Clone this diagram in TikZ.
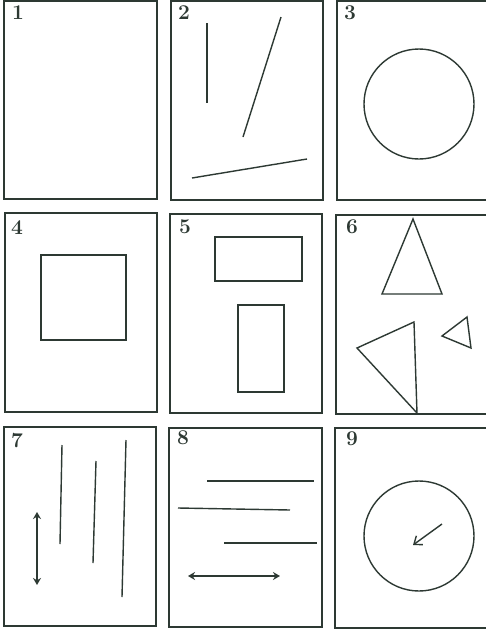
\documentclass[tikz,border=0pt]{standalone}
\usetikzlibrary{arrows.meta}
\definecolor{ink}{RGB}{45,57,51}
\begin{document}
\begin{tikzpicture}[x=1pt,y=-1pt,
  panel/.style={draw=ink,line width=1.9pt},
  figline/.style={draw=ink,line width=1.4pt},
  num/.style={anchor=north west,inner sep=0pt,text=ink,font=\fontsize{21}{21}\selectfont\bfseries},
  dbl/.style={draw=ink,line width=1.6pt,{Stealth[length=7pt,width=8pt]}-{Stealth[length=7pt,width=8pt]}},
  openarr/.style={draw=ink,line width=1.4pt,-{Straight Barb[length=7pt,width=11pt]}}]
\useasboundingbox (0,0) rectangle (486,630);
\fill[white] (0,0) rectangle (486,630);
% row 1
\draw[panel] (4,1) rectangle (157,199);
\draw[panel] (171,1) rectangle (323,200);
\draw[panel] (337,1) rectangle (490,200);
\node[num] (n1) at (12,6) {1};
\node[num] (n2) at (178,6) {2};
\node[num] (n3) at (344,6) {3};
\draw[figline] (207,23) -- (207,103);
\draw[figline] (281,17) -- (243,137);
\draw[figline] (192,178) -- (307,159);
\draw[figline] (419,104) circle (55);
% row 2
\draw[panel] (5,213) rectangle (157,412);
\draw[panel] (170,214) rectangle (322,413);
\draw[panel] (336,215) rectangle (490,414);
\node[num] (n4) at (11,220) {4};
\node[num] (n5) at (179,220) {5};
\node[num] (n6) at (346,220) {6};
\draw[figline] (41,255) rectangle (126,340);
\draw[figline] (215,237) rectangle (302,281);
\draw[figline] (238,305) rectangle (284,392);
\draw[figline,line join=miter] (413,219) -- (382,294) -- (442,294) -- cycle;
\draw[figline,line join=miter] (357,348) -- (414,322) -- (417,413) -- cycle;
\draw[figline,line join=miter] (442,336) -- (467,317) -- (471,348) -- cycle;
% row 3
\draw[panel] (4,427) rectangle (156,626);
\draw[panel] (169,428) rectangle (322,627);
\draw[panel] (335,428) rectangle (490,628);
\node[num] (n7) at (11,433) {7};
\node[num] (n8) at (177,431) {8};
\node[num] (n9) at (346,432) {9};
\draw[figline] (62,445) -- (60,544);
\draw[figline] (96,461) -- (93,563);
\draw[figline] (126,440) -- (122,597);
\coordinate (a7t) at (37,512);
\coordinate (a7b) at (37,585);
\draw[dbl] (a7t) -- (a7b);
\draw[figline] (207,481) -- (314,481);
\draw[figline] (178,508) -- (290,510);
\draw[figline] (224,543) -- (317,543);
\coordinate (a8l) at (188,576);
\coordinate (a8r) at (280,576);
\draw[dbl] (a8l) -- (a8r);
\draw[figline] (419,536) circle (55);
\coordinate (a9s) at (442,524);
\coordinate (a9e) at (413,545);
\draw[openarr] (a9s) -- (a9e);
\end{tikzpicture}
\end{document}
